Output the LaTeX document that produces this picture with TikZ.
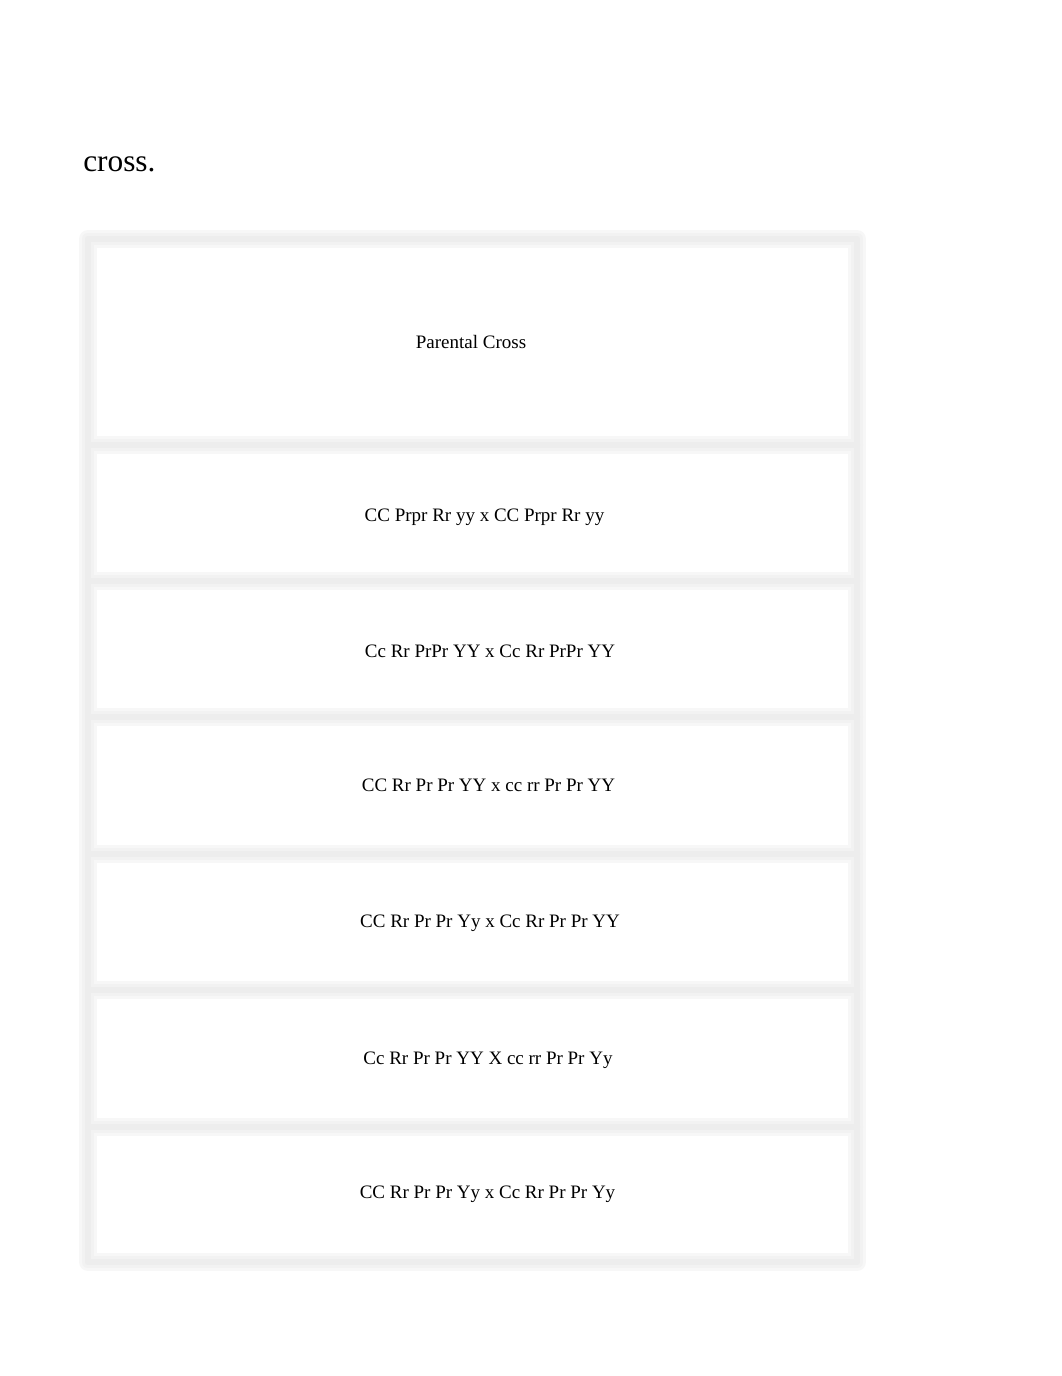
\documentclass[tikz,border=0pt]{standalone}
\usepackage{fontspec}
\setmainfont{Liberation Serif}
\usepackage{tikz}

\begin{document}
\begin{tikzpicture}[line cap=round,line join=round,x=0.75pt,y=-0.75pt,
        rowtext/.style={anchor=base,font=\fontsize{14.25pt}{17pt}\selectfont},
        framesoft/.style={draw=black!3,line width=13.5pt},
        framemid/.style={draw=black!5,line width=9pt},
        framecore/.style={draw=black!7,line width=4.5pt}]
        \useasboundingbox (0,0) rectangle (1062,1376);
        % title text
        \node[anchor=base west,inner sep=0pt,font=\fontsize{23.5pt}{28pt}\selectfont] (title) at (83,171.5) {cross.};
        % frame of the table, drawn soft
        \foreach \s in {framesoft,framemid,framecore} {
            \draw [\s] (88,239) rectangle (857,1262);
            \foreach \yy in {445,581,717,854,990,1127}
                \draw [\s] (88,\yy) -- (857,\yy);
        }
        % row texts
        \node[rowtext] (head) at (471,348) {Parental Cross};
        \node[rowtext] (crossA) at (484.5,521) {CC Prpr Rr yy x CC Prpr Rr yy};
        \node[rowtext] (crossB) at (490,657) {Cc Rr PrPr YY x Cc Rr PrPr YY};
        \node[rowtext] (crossC) at (488.5,791) {CC Rr Pr Pr YY x cc rr Pr Pr YY};
        \node[rowtext] (crossD) at (490,927) {CC Rr Pr Pr Yy x Cc Rr Pr Pr YY};
        \node[rowtext] (crossE) at (488,1064) {Cc Rr Pr Pr YY X cc rr Pr Pr Yy};
        \node[rowtext] (crossF) at (487.5,1198) {CC Rr Pr Pr Yy x Cc Rr Pr Pr Yy};
\end{tikzpicture}
\end{document}
